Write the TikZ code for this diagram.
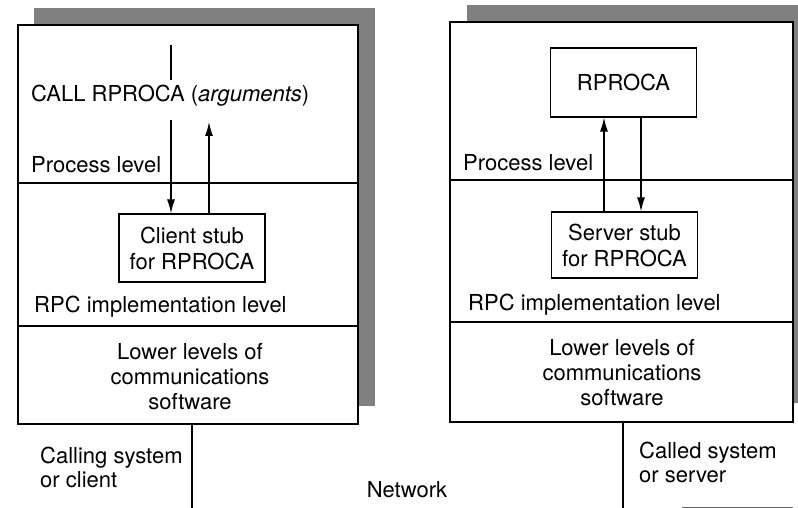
\documentclass[tikz,border=0pt]{standalone}
\usepackage{fontspec}
\setmainfont{TeX Gyre Heros}
\usetikzlibrary{arrows.meta,calc}
\begin{document}
\begin{tikzpicture}[x=1pt,y=-1pt,
  shadowbox/.style={fill=black!50,draw=none},
  sysbox/.style={fill=white,draw=black,line width=2.6pt},
  divider/.style={line width=1.3pt},
  lbl/.style={anchor=west,inner sep=0pt,font=\fontsize{22}{24}\selectfont},
  ctext/.style={align=center,inner sep=0pt,font=\fontsize{22}{25}\selectfont},
  stub/.style={draw,line width=1.3pt,minimum width=146pt,minimum height=68pt,align=center,inner sep=0pt,font=\fontsize{22}{26}\selectfont},
  link/.style={line width=1.2pt},
  flow/.style={line width=1.2pt,-{Latex[length=14pt,width=8pt]}}]
\useasboundingbox (0,0) rectangle (798,508);

% shadows behind the two systems
\fill[shadowbox] (34,8) rectangle (375,406);
\fill[shadowbox] (467,5) rectangle (798,403);

% calling system
\draw[sysbox] (18,25) rectangle (358,424);
\draw[divider] (18,183) -- (358,183);
\draw[divider] (18,326) -- (358,326);

\node[lbl] (call) at (31,96) {CALL RPROCA (\textit{arguments})};
\node[lbl] (procL) at (31,165) {Process level};
\node[stub] (cstub) at (192,248) {Client stub\\for RPROCA};
\node[lbl] (rpcL) at (34,307) {RPC implementation level};
\node[ctext] (lowL) at (190,377) {Lower levels of\\communications\\software};
\node[lbl] (callingsys) at (40,471) {\begin{tabular}{@{}l@{}}Calling system\\or client\end{tabular}};

\coordinate (inTop) at (171,45);
\coordinate (inMid) at (171,80);
\coordinate (inLow) at (171,120);
\coordinate (retTop) at (209,122);
\draw[link] (inTop) -- (inMid);
\draw[flow] (inLow) -- (inLow |- cstub.north);
\draw[flow] (retTop |- cstub.north) -- (retTop);

% called system
\draw[sysbox] (450,22) rectangle (793,422);
\draw[divider] (450,180) -- (793,180);
\draw[divider] (450,322) -- (793,322);

\node[stub,minimum height=69pt] (proc) at (623.5,82.5) {RPROCA};
\node[lbl] (procR) at (463,163) {Process level};
\node[stub,minimum height=66pt] (sstub) at (624.5,245) {Server stub\\for RPROCA};
\node[lbl] (rpcR) at (468,305) {RPC implementation level};
\node[ctext] (lowR) at (622,373) {Lower levels of\\communications\\software};
\node[lbl] (calledsys) at (639,466) {\begin{tabular}{@{}l@{}}Called system\\or server\end{tabular}};

\coordinate (upX) at (604,0);
\coordinate (downX) at (641,0);
\draw[flow] (upX |- sstub.north) -- (upX |- proc.south);
\draw[flow] (downX |- proc.south) -- (downX |- sstub.north);

% network attachments
\node[lbl,anchor=center] (net) at (407,490) {Network};
\coordinate (netL) at (192,508);
\coordinate (netR) at (623,508);
\draw[link] (192,424) -- (netL);
\draw[link] (623,422) -- (netR);
\draw[line width=0.8pt,black!60] (682,507) -- (793,507);
\end{tikzpicture}
\end{document}
